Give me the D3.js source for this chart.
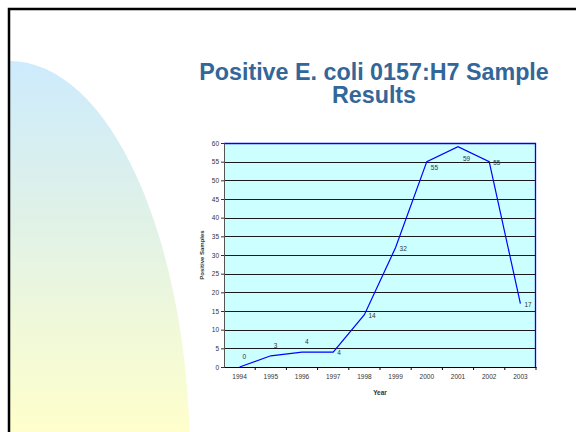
<!DOCTYPE html>
<html><head><meta charset="utf-8">
<script src="https://cdn.jsdelivr.net/npm/d3@7"></script>
<style>body{margin:0;background:#fff}svg{display:block}</style>
</head><body>
<svg id="c" width="576" height="432"></svg>
<script>
const years = ["1994","1995","1996","1997","1998","1999","2000","2001","2002","2003"];
const positives = [0, 3, 4, 4, 14, 32, 55, 59, 55, 17];
const labelPos = ["above","above","above","right","right","right","lower","below","right","right"];
const yTicks = [0,5,10,15,20,25,30,35,40,45,50,55,60];
const titleLines = ["Positive E. coli 0157:H7 Sample", "Results"];

const svg = d3.select("#c");
const font = "'Liberation Sans', Arial, sans-serif";

// background decoration
const defs = svg.append("defs");
const g = defs.append("linearGradient").attr("id","bg").attr("gradientUnits","userSpaceOnUse")
  .attr("x1",0).attr("y1",61).attr("x2",0).attr("y2",432);
g.append("stop").attr("offset","0%").attr("stop-color","#cdebfd");
g.append("stop").attr("offset","45%").attr("stop-color","#e1f2e6");
g.append("stop").attr("offset","100%").attr("stop-color","#ffffcc");
svg.append("ellipse").attr("cx",10).attr("cy",460).attr("rx",180).attr("ry",399).attr("fill","url(#bg)");
svg.append("rect").attr("x",0).attr("y",0).attr("width",10).attr("height",432).attr("fill","#fff");
svg.append("path").attr("d","M9,440 L9,9 L590,9").attr("fill","none").attr("stroke","#000").attr("stroke-width",2.5);

// title
svg.append("text").attr("x",374).attr("y",80).attr("text-anchor","middle")
  .attr("font-family",font).attr("font-weight","bold").attr("font-size",23.3).attr("fill","#336699")
  .selectAll("tspan").data(titleLines).join("tspan")
  .attr("x",374).attr("dy",(d,i)=>i===0?0:23).text(d=>d);

// plot
const L=224, R=536, T=143, B=367;
const x = d3.scaleBand().domain(years).range([L,R]);
const y = d3.scaleLinear().domain([0,60]).range([B,T]);

svg.append("rect").attr("x",L).attr("y",T).attr("width",R-L).attr("height",B-T).attr("fill","#ccffff");
svg.append("g").selectAll("line").data(yTicks.filter(v=>v>0&&v<60)).join("line")
  .attr("x1",L).attr("x2",R).attr("y1",d=>Math.round(y(d))+0.5).attr("y2",d=>Math.round(y(d))+0.5)
  .attr("stroke","#1a1a1a").attr("stroke-width",1);
svg.append("path").attr("d",`M${L},${T+0.5}H${R-0.5}V${B}`).attr("fill","none").attr("stroke","#0000ff").attr("stroke-width",1.3);

const yAxis = svg.append("g").attr("transform",`translate(${L},0)`)
  .call(d3.axisLeft(y).tickValues(yTicks).tickSize(3).tickPadding(2));
const xAxis = svg.append("g").attr("transform",`translate(0,${B})`)
  .call(d3.axisBottom(x).tickSize(0).tickPadding(7));
// tick marks at band boundaries
svg.append("g").selectAll("line").data(years).join("line")
  .attr("x1",d=>x(d)+x.bandwidth()).attr("x2",d=>x(d)+x.bandwidth())
  .attr("y1",B).attr("y2",B+3).attr("stroke","#000");
[yAxis,xAxis].forEach(a=>{
  a.selectAll("text").attr("font-family",font).attr("font-size",6.5).attr("fill","#333");
  a.select(".domain").attr("stroke","#000");
});
yAxis.select(".domain").attr("stroke","#555");
yAxis.selectAll(".tick line").attr("stroke","#333");

// line
const line = d3.line().x((d,i)=>x(years[i])+x.bandwidth()/2).y(d=>y(d));
svg.append("path").datum(positives).attr("d",line).attr("fill","none").attr("stroke","#0000ff").attr("stroke-width",1.2);

// data labels
svg.append("g").selectAll("text").data(positives).join("text")
  .attr("font-family",font).attr("font-size",6.5).attr("fill","#333")
  .attr("x",(d,i)=>x(years[i])+x.bandwidth()/2 + (labelPos[i]==="above"?3:(labelPos[i]==="below"?5:4)))
  .attr("y",(d,i)=>y(d) + ({above:-10,right:1,lower:6,below:12})[labelPos[i]] + 2.3)
  .text(d=>d);

// axis titles
svg.append("text").attr("x",(L+R)/2).attr("y",395).attr("text-anchor","middle")
  .attr("font-family",font).attr("font-weight","bold").attr("font-size",6.5).attr("fill","#333").text("Year");
svg.append("text").attr("transform",`translate(204,${(T+B)/2}) rotate(-90)`).attr("text-anchor","middle")
  .attr("font-family",font).attr("font-weight","bold").attr("font-size",6).attr("fill","#333").text("Positive Samples");
</script>
</body></html>
